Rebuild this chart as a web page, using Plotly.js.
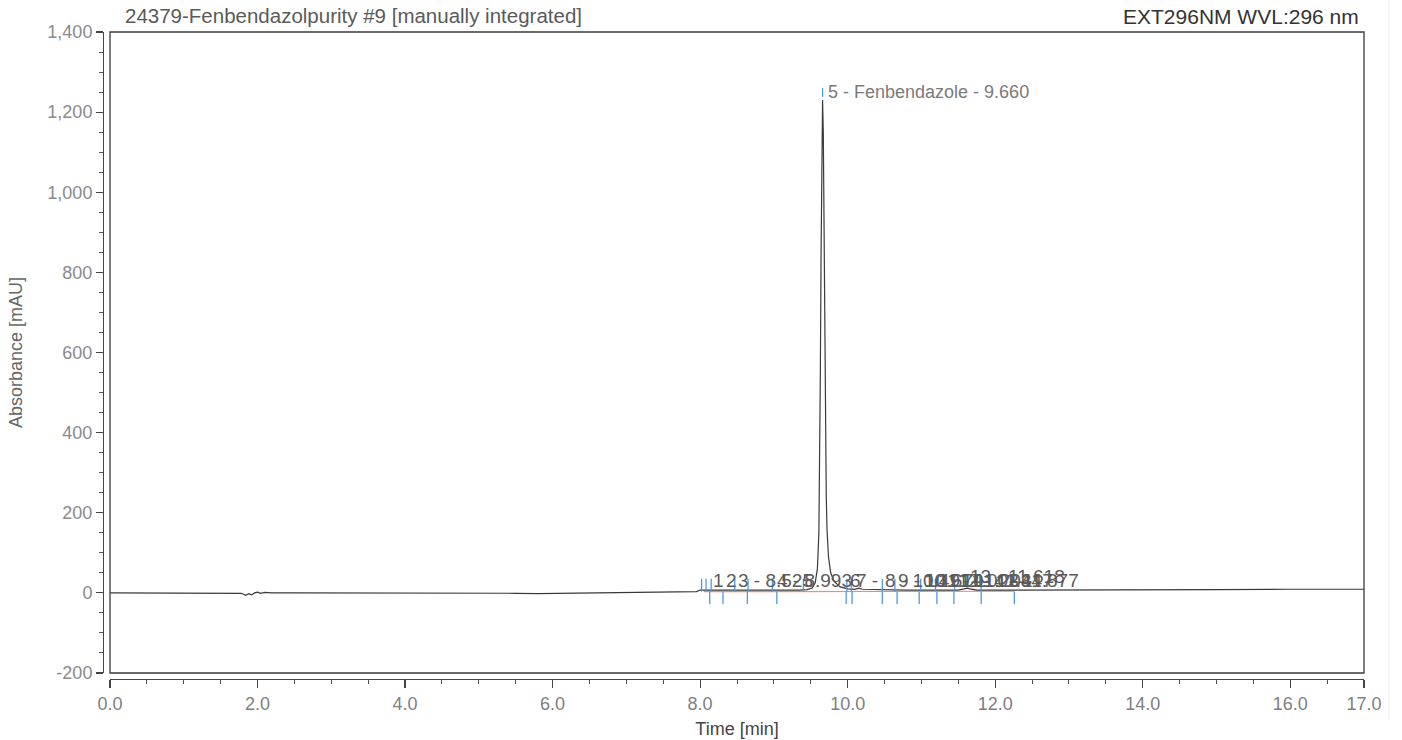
<!DOCTYPE html>
<html>
<head>
<meta charset="utf-8">
<script src="https://cdn.plot.ly/plotly-3.0.1.min.js"></script>
<style>
  html, body { margin: 0; padding: 0; background: #ffffff; }
  #chart { width: 1402px; height: 740px; }
</style>
</head>
<body>
<div id="chart"></div>
<script>
// ---- Data ----
const timeMin = [0, 0.4, 0.8, 1.2, 1.6, 1.78, 1.84, 1.88, 1.92, 1.96, 2.0, 2.04, 2.1, 2.2, 2.5, 3.0, 3.5, 4.0, 4.5, 5.0, 5.5, 5.8, 6.2, 6.6, 7.0, 7.4, 7.8, 7.95, 8.0, 8.2, 8.5, 8.8, 9.1, 9.35, 9.45, 9.52, 9.56, 9.59, 9.61, 9.62, 9.63, 9.64, 9.65, 9.66, 9.67, 9.68, 9.69, 9.70, 9.71, 9.72, 9.74, 9.77, 9.82, 9.90, 10.0, 10.1, 10.15, 10.2, 10.4, 10.8, 11.2, 11.5, 11.58, 11.62, 11.66, 11.75, 12.0, 12.3, 13.0, 14.0, 15.0, 16.0, 17.0];
const absorbance = [0, 0, 0, 0, 0, -1, -6, -2, -5, 0, 2, -1, 1, 0, 0, 0, 0, 0, 0, 0, -1, -2, -1, 0, 0, 1, 2, 3, 7, 7, 6, 6, 6, 7, 8, 12, 25, 60, 150, 300, 550, 850, 1120, 1230, 1150, 900, 600, 380, 240, 160, 90, 50, 28, 15, 10, 9, 12, 9, 8, 7, 7, 7, 10, 12, 10, 7, 7, 7, 7, 8, 8, 9, 9];

// peak delimiter markers (start marks above baseline, end marks below)
const startMarks = [8.02, 8.08, 8.15, 8.47, 8.65, 8.98, 9.40, 9.99, 10.05, 10.47, 10.64, 10.99, 11.19, 11.45, 11.81];
const endMarks = [8.13, 8.31, 8.64, 9.04, 9.98, 10.06, 10.47, 10.67, 10.97, 11.21, 11.44, 11.81, 12.26];

// integration baseline
const baselineTimes = [8.05, 12.26];
const baselineValues = [3, 4];

// main peak
const mainPeakTime = 9.66;
const mainPeakHeight = 1230;
const mainPeakLabel = "5 - Fenbendazole - 9.660";

// small peak labels (overlapping, as printed)
const peakLabelTimes = [8.13, 8.31, 8.47, 9.00, 9.99, 10.07, 10.47, 10.64, 10.99, 11.19, 11.45, 11.62, 11.81];
const peakLabelTexts = ["1", "2", "3 - 8.525", "4 - 8.993", "6", "7 -", "8 - 10.491", "9 - 10.670", "10 - 11.003", "11 - 11.203", "12 - 11.447", "13 - 11.618", "14 - 11.877"];

// ticks
const xTickVals = [0, 2, 4, 6, 8, 10, 12, 14, 16, 17];
const xTickText = ["0.0", "2.0", "4.0", "6.0", "8.0", "10.0", "12.0", "14.0", "16.0", "17.0"];
const yTickVals = [-200, 0, 200, 400, 600, 800, 1000, 1200, 1400];
const yTickText = ["-200", "0", "200", "400", "600", "800", "1,000", "1,200", "1,400"];

const titleText = "24379-Fenbendazolpurity #9 [manually integrated]";
const channelText = "EXT296NM WVL:296 nm";

// ---- Build marker segments ----
const mx = [], my = [];
startMarks.forEach(t => { mx.push(t, t, null); my.push(3, 35, null); });
endMarks.forEach(t => { mx.push(t, t, null); my.push(-28, 3, null); });
mx.push(mainPeakTime, mainPeakTime, null); my.push(mainPeakHeight + 8, mainPeakHeight + 30, null);

const FONT = "Liberation Sans, Arial, sans-serif";

const traces = [
  { x: baselineTimes, y: baselineValues, type: "scatter", mode: "lines",
    line: { color: "#f08a78", width: 1.2 }, hoverinfo: "skip" },
  { x: timeMin, y: absorbance, type: "scatter", mode: "lines",
    line: { color: "#3a3a3a", width: 1.2 }, hoverinfo: "x+y" },
  { x: mx, y: my, type: "scatter", mode: "lines",
    line: { color: "#4b9be0", width: 1.3 }, hoverinfo: "skip" }
];

const annotations = peakLabelTimes.map((t, i) => ({
  x: t, y: (i === 11 ? 40 : 32), xref: "x", yref: "y", text: peakLabelTexts[i],
  showarrow: false, xanchor: "left", yanchor: "middle", xshift: 1,
  font: { family: FONT, size: 19, color: "#5a5a5a" }
}));
annotations.push({
  x: mainPeakTime, y: mainPeakHeight + 20, xref: "x", yref: "y", text: mainPeakLabel,
  showarrow: false, xanchor: "left", yanchor: "middle", xshift: 3,
  font: { family: FONT, size: 18, color: "#7a7a7a" }
});
annotations.push({
  x: (1361 - 103) / 1261, y: (679 - 16) / 647, xref: "paper", yref: "paper",
  text: channelText, showarrow: false, xanchor: "right", yanchor: "middle",
  font: { family: FONT, size: 21, color: "#333333" }
});

const layout = {
  width: 1402, height: 740,
  margin: { l: 103, r: 38, t: 32, b: 61 },
  paper_bgcolor: "#ffffff", plot_bgcolor: "#ffffff",
  showlegend: false,
  title: {
    text: titleText, xref: "container", yref: "container",
    x: 125 / 1402, xanchor: "left", y: 1 - 16 / 740, yanchor: "middle",
    font: { family: FONT, size: 20.5, color: "#5a5a5a" }
  },
  xaxis: {
    domain: [7 / 1261, 1], anchor: "free", position: 0,
    range: [0, 17], showgrid: false, zeroline: false,
    showline: true, linecolor: "#444", linewidth: 1.3,
    tickmode: "array", tickvals: xTickVals, ticktext: xTickText,
    ticks: "outside", ticklen: 8, tickcolor: "#444", tickwidth: 1.2,
    minor: { tickmode: "linear", tick0: 0, dtick: 0.5, ticks: "outside", ticklen: 4, tickcolor: "#555", tickwidth: 1 },
    tickfont: { family: FONT, size: 18, color: "#808080" },
    title: { text: "Time [min]", standoff: 9, font: { family: FONT, size: 18, color: "#444" } },
    automargin: false
  },
  yaxis: {
    domain: [6 / 647, 1], anchor: "free", position: 0,
    range: [-200, 1400], showgrid: false, zeroline: false,
    showline: true, linecolor: "#444", linewidth: 1.3,
    tickmode: "array", tickvals: yTickVals, ticktext: yTickText,
    ticks: "outside", ticklen: 7, tickcolor: "#444", tickwidth: 1.2,
    minor: { tickmode: "linear", tick0: 0, dtick: 50, ticks: "outside", ticklen: 4, tickcolor: "#555", tickwidth: 1 },
    tickfont: { family: FONT, size: 18, color: "#8a8a8a" },
    title: { text: "Absorbance [mAU]", standoff: 18, font: { family: FONT, size: 18, color: "#666" } },
    automargin: false
  },
  shapes: [
    { type: "rect", xref: "x domain", yref: "y domain", x0: 0, x1: 1, y0: 0, y1: 1,
      line: { color: "#3a3a3a", width: 1.3 }, fillcolor: "rgba(0,0,0,0)", layer: "below" },
    { type: "line", xref: "paper", yref: "paper", x0: (1389 - 103) / 1261, x1: (1389 - 103) / 1261, y0: -61 / 647 + 20 / 647, y1: 1 + 32 / 647,
      line: { color: "#ececec", width: 1 } }
  ],
  annotations: annotations
};

Plotly.newPlot("chart", traces, layout, { displayModeBar: false, staticPlot: true });
</script>
</body>
</html>
